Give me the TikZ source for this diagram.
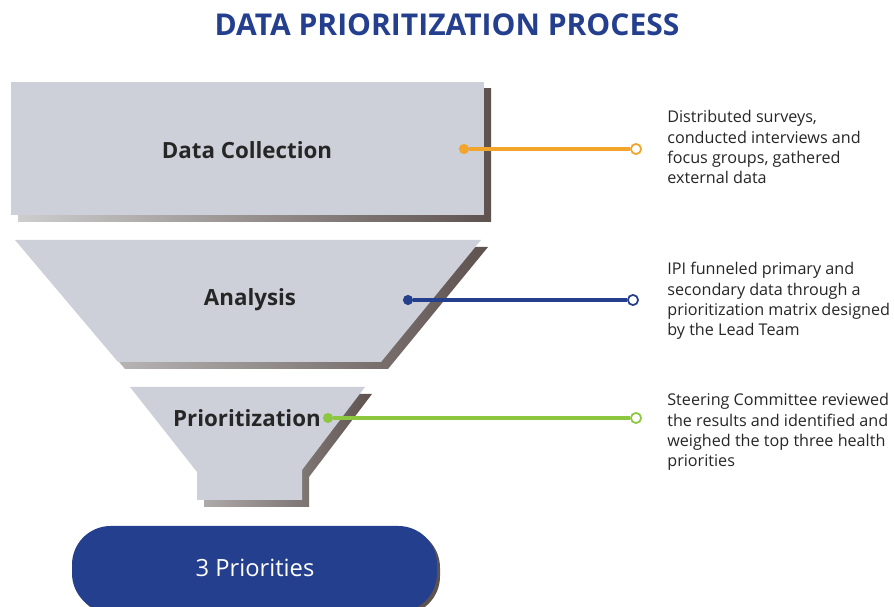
\documentclass[tikz,border=0pt]{standalone}
\usepackage{fontspec}
\setmainfont{Open Sans}
\definecolor{funnelgray}{HTML}{CDD0D8}
\definecolor{shadowdark}{HTML}{5E524F}
\definecolor{shadowlight}{HTML}{CDCDCD}
\definecolor{ipiblue}{HTML}{253F8F}
\definecolor{dcorange}{HTML}{F2A52A}
\definecolor{prgreen}{HTML}{8DC63F}
\tikzset{
  stage/.style={fill=funnelgray},
  stageshadow/.style={left color=shadowlight, right color=shadowdark, shading angle=90},
  stagelabel/.style={font=\fontsize{12.7}{15}\selectfont\bfseries, text=black!85},
  dot/.style={circle, inner sep=0pt, minimum size=5.8pt},
  opendot/.style={circle, inner sep=0pt, minimum size=5.8pt, fill=white, line width=1pt},
  leader/.style={line width=2.2pt},
  note/.style={anchor=north west, inner sep=0pt, align=left, text=black!85,
    font=\fontsize{9.2}{11.6}\selectfont},
}
\begin{document}
\begin{tikzpicture}[x=0.02cm, y=-0.02cm]
                \useasboundingbox (0, 0) rectangle (894, 607);
                % title
                \node [font=\fontsize{17.1}{20}\selectfont\bfseries, text=ipiblue] (title) at (447, 25) {DATA PRIORITIZATION PROCESS};
                % data collection box
                \shade [stageshadow] (18, 89) rectangle (491, 222);
                \fill [stage] (11, 82) rectangle (484, 215);
                \node [stagelabel] (collect) at (247, 150) {Data Collection};
                % analysis trapezoid
                \shade [stageshadow] (22, 247) -- (488, 247) -- (388, 369) -- (125, 369) -- cycle;
                \fill [stage] (15, 240) -- (481, 240) -- (381, 362) -- (118, 362) -- cycle;
                \node [stagelabel] (analysis) at (250, 300) {Analysis};
                % prioritization funnel
                \shade [stageshadow] (137, 394) -- (372, 394) -- (309, 477) -- (309, 507) -- (204, 507) -- (204, 479) -- cycle;
                \fill [stage] (130, 387) -- (365, 387) -- (302, 470) -- (302, 500) -- (197, 500) -- (197, 472) -- cycle;
                \node [stagelabel] (prior) at (247, 418) {Prioritization};
                % result pill
                \fill [shadowdark, rounded corners=22pt] (75, 529) rectangle (440, 615);
                \fill [ipiblue, rounded corners=22pt] (72, 526) rectangle (437, 612);
                \node [font=\fontsize{13.5}{16}\selectfont, text=white] (result) at (255, 568) {3 Priorities};
                % leaders
                \node [dot, fill=dcorange] (collectA) at (464, 149) {};
                \node [opendot, draw=dcorange] (collectB) at (636, 149) {};
                \draw [leader, dcorange] (collectA) -- (collectB);
                \node [dot, fill=ipiblue] (analysisA) at (408, 300) {};
                \node [opendot, draw=ipiblue] (analysisB) at (633, 300) {};
                \draw [leader, ipiblue] (analysisA) -- (analysisB);
                \node [dot, fill=prgreen] (priorA) at (328, 418) {};
                \node [opendot, draw=prgreen] (priorB) at (636, 418) {};
                \draw [leader, prgreen] (priorA) -- (priorB);
                % notes
                \node [note] (collectnote) at (667, 110) {Distributed surveys,\\conducted interviews and\\focus groups, gathered\\external data};
                \node [note] (analysisnote) at (667, 262) {IPI funneled primary and\\secondary data through a\\prioritization matrix designed\\by the Lead Team};
                \node [note] (priornote) at (667, 393) {Steering Committee reviewed\\the results and identified and\\weighed the top three health\\priorities};
            \end{tikzpicture}
\end{document}
